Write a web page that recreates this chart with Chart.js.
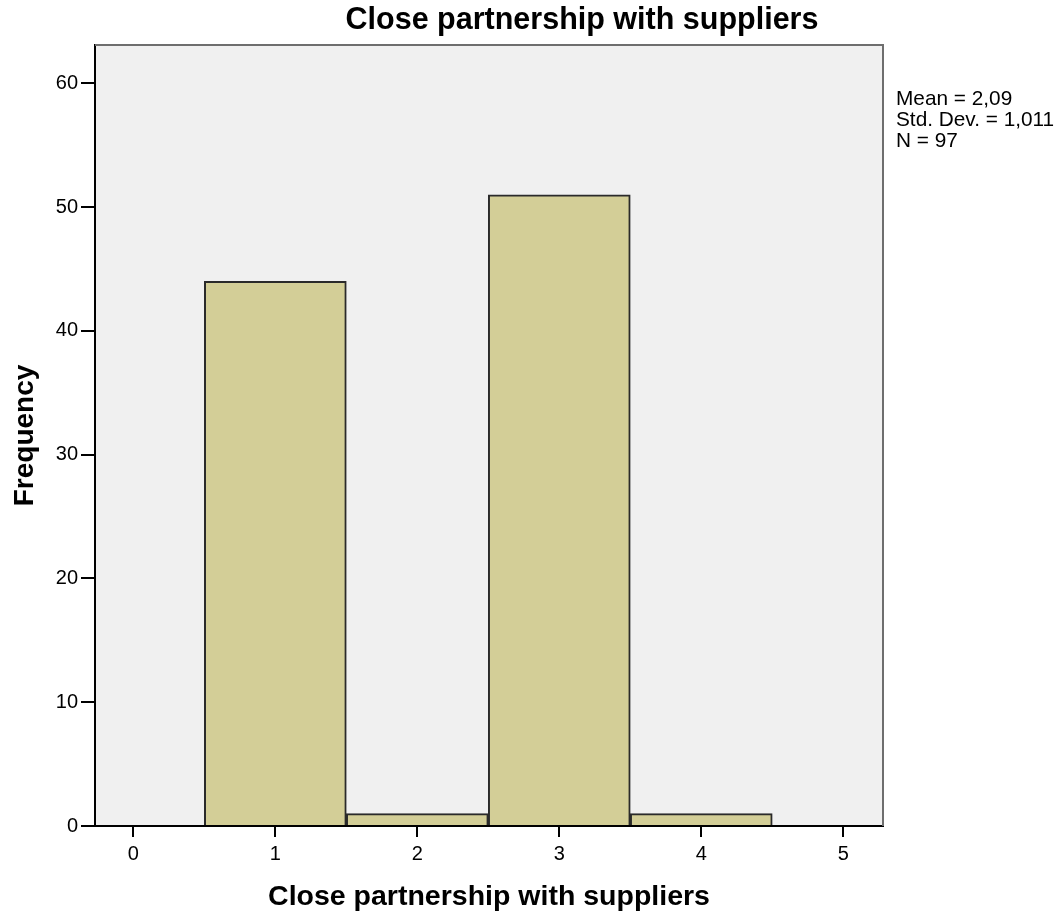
<!DOCTYPE html>
<html>
<head>
<meta charset="utf-8">
<script src="https://cdn.jsdelivr.net/npm/chart.js@4.4.1/dist/chart.umd.min.js"></script>
<style>
  html, body { margin: 0; padding: 0; background: #ffffff; }
  #wrap { width: 1059px; height: 917px; position: relative; }
</style>
</head>
<body>
<div id="wrap"><canvas id="c"></canvas></div>
<script>
// ---- data ----
const chartTitle = "Close partnership with suppliers";
const xAxisTitle = "Close partnership with suppliers";
const yAxisTitle = "Frequency";
const binCenters = [1, 2, 3, 4];
const frequencies = [44, 1, 51, 1];
const xTickValues = [0, 1, 2, 3, 4, 5];
const yTickValues = [0, 10, 20, 30, 40, 50, 60];
const statsLines = ["Mean = 2,09", "Std. Dev. = 1,011", "N = 97"];
const xRange = [-0.27, 5.28];
const yRange = [0, 63.1];

const FONT = "'Liberation Sans', Arial, Helvetica, sans-serif";

const framePlugin = {
  id: 'frame',
  beforeDraw(chart) {
    const { ctx, chartArea: a } = chart;
    ctx.save();
    ctx.fillStyle = '#ffffff';
    ctx.fillRect(0, 0, chart.width, chart.height);
    ctx.fillStyle = '#f0f0f0';
    ctx.fillRect(a.left, a.top, a.right - a.left, a.bottom - a.top);
    ctx.restore();
  },
  afterDraw(chart) {
    const { ctx, chartArea: a } = chart;
    ctx.save();
    // top and right frame
    ctx.strokeStyle = '#6e6e6e';
    ctx.lineWidth = 2;
    ctx.beginPath();
    ctx.moveTo(a.left, a.top);
    ctx.lineTo(a.right, a.top);
    ctx.lineTo(a.right, a.bottom);
    ctx.stroke();
    // chart title
    ctx.fillStyle = '#000000';
    ctx.font = "bold 30.5px " + FONT;
    ctx.textAlign = 'center';
    ctx.textBaseline = 'alphabetic';
    ctx.fillText(chartTitle, 582, 29);
    // statistics annotation
    ctx.font = "20.8px " + FONT;
    ctx.textAlign = 'left';
    statsLines.forEach((s, i) => ctx.fillText(s, 896, 105 + i * 21));
    ctx.restore();
  }
};

new Chart(document.getElementById('c'), {
  type: 'bar',
  data: {
    datasets: [{
      label: 'Frequency',
      data: binCenters.map((x, i) => ({ x: x, y: frequencies[i] })),
      backgroundColor: '#d3ce97',
      borderColor: '#2a2a2a',
      borderWidth: 2,
      barPercentage: 1.0,
      categoryPercentage: 1.0
    }]
  },
  options: {
    responsive: true,
    maintainAspectRatio: false,
    animation: false,
    devicePixelRatio: 1,
    layout: { padding: { top: 45, right: 176, left: 0, bottom: 0 } },
    plugins: {
      legend: { display: false },
      title: { display: false },
      tooltip: { enabled: false }
    },
    scales: {
      x: {
        type: 'linear',
        offset: false,
        min: xRange[0],
        max: xRange[1],
        afterBuildTicks: (s) => { s.ticks = xTickValues.map(v => ({ value: v })); },
        afterFit: (s) => { s.height = 91; },
        ticks: { color: '#000', font: { family: FONT, size: 20 }, padding: 5, maxRotation: 0 },
        grid: { offset: false, drawOnChartArea: false, tickLength: 11, tickColor: '#000', lineWidth: 2 },
        border: { color: '#000', width: 2 },
        title: { display: true, text: xAxisTitle, color: '#000',
                 font: { family: FONT, size: 28.5, weight: 'bold' }, padding: { top: 0, bottom: 3 } }
      },
      y: {
        type: 'linear',
        min: yRange[0],
        max: yRange[1],
        afterBuildTicks: (s) => { s.ticks = yTickValues.map(v => ({ value: v })); },
        afterFit: (s) => { s.width = 95; },
        ticks: { color: '#000', font: { family: FONT, size: 20 }, padding: 3 },
        grid: { drawOnChartArea: false, tickLength: 14, tickColor: '#000', lineWidth: 2 },
        border: { color: '#000', width: 2 },
        title: { display: true, text: yAxisTitle, color: '#000',
                 font: { family: FONT, size: 28, weight: 'bold' }, padding: { top: 8, bottom: 0 } }
      }
    }
  },
  plugins: [framePlugin]
});
</script>
</body>
</html>
